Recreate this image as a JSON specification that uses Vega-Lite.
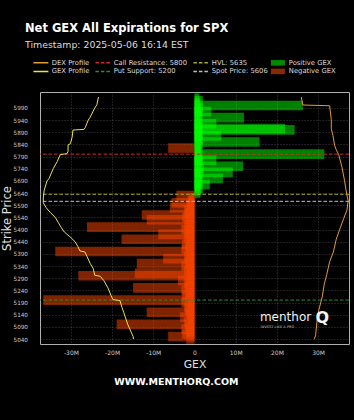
{
  "$schema": "https://vega.github.io/schema/vega-lite/v6.json",
  "width": 309,
  "height": 252,
  "autosize": {"type": "none"},
  "padding": {"left": 40, "top": 92, "right": 5, "bottom": 76},
  "background": "#000000",
  "title": {
    "text": "Net GEX All Expirations for SPX",
    "subtitle": "Timestamp: 2025-05-06 16:14 EST",
    "anchor": "start",
    "frame": "group",
    "dx": -15,
    "offset": 10,
    "font": "DejaVu Sans",
    "fontSize": 11.5,
    "fontWeight": "bold",
    "color": "#ffffff",
    "subtitleFont": "DejaVu Sans",
    "subtitleFontSize": 9.4,
    "subtitleColor": "#dddddd",
    "subtitlePadding": 6
  },
  "datasets": {
    "gex": [
      {"strike": 5040, "gex": -2}, {"strike": 5050, "gex": -6.4}, {"strike": 5060, "gex": -3}, {"strike": 5070, "gex": -2},
      {"strike": 5080, "gex": -3.2}, {"strike": 5090, "gex": -2.3}, {"strike": 5100, "gex": -18.9}, {"strike": 5110, "gex": -2.6},
      {"strike": 5120, "gex": -1.7}, {"strike": 5130, "gex": -3.5}, {"strike": 5140, "gex": -2}, {"strike": 5150, "gex": -11.6},
      {"strike": 5160, "gex": -2.3}, {"strike": 5170, "gex": -2.6}, {"strike": 5180, "gex": -1.7}, {"strike": 5190, "gex": -3.2},
      {"strike": 5200, "gex": -36.7}, {"strike": 5210, "gex": -2.3}, {"strike": 5220, "gex": -3}, {"strike": 5230, "gex": -2},
      {"strike": 5240, "gex": -3.2}, {"strike": 5250, "gex": -14.9}, {"strike": 5260, "gex": -2.3}, {"strike": 5270, "gex": -2.6},
      {"strike": 5280, "gex": -4}, {"strike": 5290, "gex": -2}, {"strike": 5300, "gex": -28.2}, {"strike": 5310, "gex": -14.5},
      {"strike": 5320, "gex": -2.6}, {"strike": 5330, "gex": -2}, {"strike": 5340, "gex": -3.2}, {"strike": 5350, "gex": -14},
      {"strike": 5360, "gex": -2.3}, {"strike": 5370, "gex": -7.6}, {"strike": 5380, "gex": -2.6}, {"strike": 5390, "gex": -2},
      {"strike": 5400, "gex": -33.8}, {"strike": 5410, "gex": -3.2}, {"strike": 5420, "gex": -2.3}, {"strike": 5430, "gex": -3},
      {"strike": 5440, "gex": -2}, {"strike": 5450, "gex": -17.7}, {"strike": 5460, "gex": -2.6}, {"strike": 5470, "gex": -8.8},
      {"strike": 5480, "gex": -2.3}, {"strike": 5490, "gex": -3.2}, {"strike": 5500, "gex": -26.1}, {"strike": 5510, "gex": -2.6},
      {"strike": 5520, "gex": -2}, {"strike": 5530, "gex": -11.6}, {"strike": 5540, "gex": -3}, {"strike": 5550, "gex": -12.8},
      {"strike": 5560, "gex": -2.3}, {"strike": 5570, "gex": -2.6}, {"strike": 5580, "gex": -6}, {"strike": 5590, "gex": -2},
      {"strike": 5600, "gex": -5.6}, {"strike": 5610, "gex": -1.7}, {"strike": 5620, "gex": -1.4}, {"strike": 5630, "gex": -4.4},
      {"strike": 5640, "gex": 1.4}, {"strike": 5650, "gex": 1.7}, {"strike": 5660, "gex": 2}, {"strike": 5670, "gex": 1.4},
      {"strike": 5675, "gex": 3.7}, {"strike": 5680, "gex": 1.7}, {"strike": 5690, "gex": 2}, {"strike": 5700, "gex": 6.9},
      {"strike": 5710, "gex": 1.7}, {"strike": 5720, "gex": 2}, {"strike": 5725, "gex": 9.3}, {"strike": 5730, "gex": 1.4},
      {"strike": 5740, "gex": 2.3}, {"strike": 5750, "gex": 11.8}, {"strike": 5760, "gex": 1.7}, {"strike": 5770, "gex": 2},
      {"strike": 5775, "gex": 5.3}, {"strike": 5780, "gex": 1.7}, {"strike": 5790, "gex": 2}, {"strike": 5800, "gex": 31.5},
      {"strike": 5810, "gex": 1.7}, {"strike": 5820, "gex": 1.4}, {"strike": 5825, "gex": -6.4}, {"strike": 5830, "gex": 2},
      {"strike": 5840, "gex": 1.7}, {"strike": 5850, "gex": 15.8}, {"strike": 5860, "gex": 2}, {"strike": 5870, "gex": 1.7},
      {"strike": 5875, "gex": 6.5}, {"strike": 5880, "gex": 2}, {"strike": 5890, "gex": 1.7}, {"strike": 5900, "gex": 24.3},
      {"strike": 5905, "gex": 22}, {"strike": 5910, "gex": 2}, {"strike": 5920, "gex": 1.7}, {"strike": 5925, "gex": 5.3},
      {"strike": 5930, "gex": 2}, {"strike": 5940, "gex": 1.4}, {"strike": 5950, "gex": 12}, {"strike": 5960, "gex": 1.7},
      {"strike": 5970, "gex": 2}, {"strike": 5975, "gex": 4.1}, {"strike": 5980, "gex": 1.7}, {"strike": 5990, "gex": 2},
      {"strike": 6000, "gex": 26.3}, {"strike": 6010, "gex": 1.4}, {"strike": 6020, "gex": 2}, {"strike": 6030, "gex": 1.2}
    ],
    "profiles": [
      {"series": "GEX Profile", "strike": 6035, "gex": -23.3}, {"series": "GEX Profile", "strike": 6003, "gex": -23.7},
      {"series": "GEX Profile", "strike": 5990, "gex": -24.2}, {"series": "GEX Profile", "strike": 5950, "gex": -25.4},
      {"series": "GEX Profile", "strike": 5940, "gex": -25.8}, {"series": "GEX Profile", "strike": 5910, "gex": -26.5},
      {"series": "GEX Profile", "strike": 5902, "gex": -26.8}, {"series": "GEX Profile", "strike": 5899, "gex": -29.5},
      {"series": "GEX Profile", "strike": 5870, "gex": -29.7}, {"series": "GEX Profile", "strike": 5850, "gex": -30},
      {"series": "GEX Profile", "strike": 5842, "gex": -30.2}, {"series": "GEX Profile", "strike": 5838, "gex": -30.7},
      {"series": "GEX Profile", "strike": 5810, "gex": -30.7}, {"series": "GEX Profile", "strike": 5802, "gex": -31},
      {"series": "GEX Profile", "strike": 5798, "gex": -32.6}, {"series": "GEX Profile", "strike": 5770, "gex": -33.3},
      {"series": "GEX Profile", "strike": 5740, "gex": -34.3}, {"series": "GEX Profile", "strike": 5700, "gex": -35.3},
      {"series": "GEX Profile", "strike": 5690, "gex": -35.8}, {"series": "GEX Profile", "strike": 5650, "gex": -36.5},
      {"series": "GEX Profile", "strike": 5620, "gex": -36.7}, {"series": "GEX Profile", "strike": 5600, "gex": -36.7},
      {"series": "GEX Profile", "strike": 5580, "gex": -36}, {"series": "GEX Profile", "strike": 5560, "gex": -35},
      {"series": "GEX Profile", "strike": 5540, "gex": -33.8}, {"series": "GEX Profile", "strike": 5520, "gex": -33.1},
      {"series": "GEX Profile", "strike": 5500, "gex": -32.4}, {"series": "GEX Profile", "strike": 5480, "gex": -31.6},
      {"series": "GEX Profile", "strike": 5460, "gex": -30.2}, {"series": "GEX Profile", "strike": 5440, "gex": -29},
      {"series": "GEX Profile", "strike": 5420, "gex": -28.3}, {"series": "GEX Profile", "strike": 5402, "gex": -27.8},
      {"series": "GEX Profile", "strike": 5398, "gex": -26.6}, {"series": "GEX Profile", "strike": 5380, "gex": -26.1},
      {"series": "GEX Profile", "strike": 5350, "gex": -25.3}, {"series": "GEX Profile", "strike": 5330, "gex": -24.6},
      {"series": "GEX Profile", "strike": 5302, "gex": -24.2}, {"series": "GEX Profile", "strike": 5298, "gex": -22.9},
      {"series": "GEX Profile", "strike": 5280, "gex": -22}, {"series": "GEX Profile", "strike": 5250, "gex": -21},
      {"series": "GEX Profile", "strike": 5220, "gex": -20.3}, {"series": "GEX Profile", "strike": 5202, "gex": -19.8},
      {"series": "GEX Profile", "strike": 5198, "gex": -18.1}, {"series": "GEX Profile", "strike": 5170, "gex": -17.6},
      {"series": "GEX Profile", "strike": 5150, "gex": -17.2}, {"series": "GEX Profile", "strike": 5100, "gex": -16.2},
      {"series": "GEX Profile", "strike": 5050, "gex": -14.9}, {"series": "GEX Profile", "strike": 5040, "gex": -14.8},
      {"series": "DEX Profile", "strike": 6035, "gex": 25.9}, {"series": "DEX Profile", "strike": 6002, "gex": 26.3},
      {"series": "DEX Profile", "strike": 5999, "gex": 32.8}, {"series": "DEX Profile", "strike": 5943, "gex": 33.2},
      {"series": "DEX Profile", "strike": 5904, "gex": 33.2}, {"series": "DEX Profile", "strike": 5877, "gex": 33.6},
      {"series": "DEX Profile", "strike": 5837, "gex": 34}, {"series": "DEX Profile", "strike": 5818, "gex": 34.4},
      {"series": "DEX Profile", "strike": 5798, "gex": 35}, {"series": "DEX Profile", "strike": 5746, "gex": 35.8},
      {"series": "DEX Profile", "strike": 5693, "gex": 36.4}, {"series": "DEX Profile", "strike": 5640, "gex": 36.9},
      {"series": "DEX Profile", "strike": 5608, "gex": 37.3}, {"series": "DEX Profile", "strike": 5570, "gex": 37},
      {"series": "DEX Profile", "strike": 5535, "gex": 36.2}, {"series": "DEX Profile", "strike": 5489, "gex": 35.2},
      {"series": "DEX Profile", "strike": 5450, "gex": 34.4}, {"series": "DEX Profile", "strike": 5397, "gex": 33.7},
      {"series": "DEX Profile", "strike": 5358, "gex": 32.8}, {"series": "DEX Profile", "strike": 5305, "gex": 32.1},
      {"series": "DEX Profile", "strike": 5266, "gex": 31.5}, {"series": "DEX Profile", "strike": 5213, "gex": 31},
      {"series": "DEX Profile", "strike": 5161, "gex": 30.2}, {"series": "DEX Profile", "strike": 5108, "gex": 29.7},
      {"series": "DEX Profile", "strike": 5056, "gex": 29.4}, {"series": "DEX Profile", "strike": 5040, "gex": 29.1}
    ],
    "levels": [
      {"series": "Call Resistance: 5800", "strike": 5800},
      {"series": "Put Support: 5200", "strike": 5200},
      {"series": "HVL: 5635", "strike": 5635},
      {"series": "Spot Price: 5606", "strike": 5606}
    ]
  },
  "layer": [
    {
      "data": {"name": "gex"},
      "mark": {"type": "bar", "orient": "horizontal", "size": 9.6, "fillOpacity": 0.5, "clip": true},
      "encoding": {
        "y": {
          "field": "strike", "type": "quantitative",
          "scale": {"domain": [5040, 6035], "nice": false, "zero": false},
          "axis": {
            "title": "Strike Price",
            "values": [5040, 5090, 5140, 5190, 5240, 5290, 5340, 5390, 5440, 5490, 5540, 5590, 5640, 5690, 5740, 5790, 5840, 5890, 5940, 5990],
            "tickCount": 40,
            "format": "d", "labelPadding": 12.5, "titlePadding": 1, "titleFontSize": 11.5,
            "labelOverlap": false, "labelFontSize": 5.7
          }
        },
        "x": {
          "field": "gex", "type": "quantitative", "stack": null,
          "scale": {"domain": [-37.5, 37.5], "nice": false},
          "axis": {
            "title": "GEX",
            "values": [-30, -20, -10, 0, 10, 20, 30],
            "tickCount": 20,
            "labelExpr": "datum.value == 0 ? '0' : datum.value + 'M'",
            "labelPadding": 5, "titlePadding": 3, "titleFontSize": 10.8, "labelOverlap": false
          }
        },
        "color": {"condition": {"test": "datum.gex >= 0", "value": "#00ff00"}, "value": "#ff4500"}
      }
    },
    {
      "data": {"name": "levels"},
      "mark": {"type": "rule", "strokeDash": [3.5, 2], "strokeWidth": 1},
      "encoding": {
        "y": {"field": "strike", "type": "quantitative"},
        "color": {
          "field": "series", "type": "nominal",
          "scale": {
            "domain": ["DEX Profile", "Call Resistance: 5800", "HVL: 5635", "Positive GEX", "GEX Profile", "Put Support: 5200", "Spot Price: 5606", "Negative GEX"],
            "range": ["#e39b35", "#d02a2a", "#a8a832", "#00ff00", "#ede24a", "#2e8b2e", "#c0c0c0", "#ff4500"]
          },
          "legend": {
            "title": null, "orient": "none", "legendX": -2.5, "legendY": -33, "columns": 4, "direction": "horizontal",
            "padding": 0, "columnPadding": 2, "rowPadding": 1, "labelFontSize": 6.8, "labelColor": "#dddddd",
            "labelFont": "DejaVu Sans", "labelOffset": 7.5, "symbolSize": 100, "symbolStrokeWidth": 0,
            "encode": {
              "symbols": {
                "update": {
                  "shape": {"signal": "indexof(['Positive GEX','Negative GEX'], datum.value) >= 0 ? 'M-1.4,-0.55H1.4V0.55H-1.4Z' : 'M-1.5,0H1.5'"},
                  "fill": {"signal": "datum.value == 'Positive GEX' ? '#008a00' : datum.value == 'Negative GEX' ? '#8a2800' : 'transparent'"},
                  "stroke": {"signal": "indexof(['Positive GEX','Negative GEX'], datum.value) >= 0 ? 'transparent' : scale('color', datum.value)"},
                  "strokeDash": {"signal": "indexof(['Call Resistance: 5800','HVL: 5635','Put Support: 5200','Spot Price: 5606'], datum.value) >= 0 ? [3.5,2] : [1,0]"},
                  "strokeWidth": {"signal": "indexof(['Positive GEX','Negative GEX'], datum.value) >= 0 ? 0 : 1.5"},
                  "opacity": {"value": 1}
                }
              }
            }
          }
        }
      }
    },
    {
      "data": {"name": "profiles"},
      "mark": {"type": "line", "strokeWidth": 1, "clip": true},
      "encoding": {
        "x": {"field": "gex", "type": "quantitative"},
        "y": {"field": "strike", "type": "quantitative"},
        "order": {"field": "strike", "type": "quantitative"},
        "color": {
          "field": "series", "type": "nominal",
          "scale": {
            "domain": ["DEX Profile", "Call Resistance: 5800", "HVL: 5635", "Positive GEX", "GEX Profile", "Put Support: 5200", "Spot Price: 5606", "Negative GEX"],
            "range": ["#e39b35", "#d02a2a", "#a8a832", "#00ff00", "#ede24a", "#2e8b2e", "#c0c0c0", "#ff4500"]
          }
        }
      }
    },
    {
      "data": {"values": [{}]},
      "mark": {"type": "text", "font": "DejaVu Sans", "fontSize": 12, "color": "#f2f2f2", "align": "center", "baseline": "alphabetic"},
      "encoding": {"x": {"datum": 22.1}, "y": {"datum": 5112}, "text": {"value": "menthor"}}
    },
    {
      "data": {"values": [{}]},
      "mark": {"type": "text", "font": "DejaVu Sans", "fontSize": 16, "fontWeight": "bold", "color": "#f2f2f2", "align": "center", "baseline": "alphabetic"},
      "encoding": {"x": {"datum": 31}, "y": {"datum": 5106}, "text": {"value": "Q"}}
    },
    {
      "data": {"values": [{}]},
      "mark": {"type": "text", "font": "DejaVu Sans", "fontSize": 3.6, "color": "#bbbbbb", "align": "left", "baseline": "alphabetic"},
      "encoding": {"x": {"datum": 16}, "y": {"datum": 5087}, "text": {"value": "INVEST LIKE A PRO"}}
    },
    {
      "data": {"values": [{}]},
      "mark": {"type": "text", "font": "DejaVu Sans", "fontSize": 9.5, "fontWeight": "bold", "color": "#ffffff", "align": "center", "baseline": "alphabetic"},
      "encoding": {"x": {"datum": -4.4}, "y": {"datum": 4851}, "text": {"value": "WWW.MENTHORQ.COM"}}
    }
  ],
  "config": {
    "font": "DejaVu Sans",
    "view": {"stroke": "#b0b0b0", "strokeWidth": 1},
    "axis": {
      "labelFont": "DejaVu Sans", "titleFont": "DejaVu Sans", "labelFontSize": 6, "labelColor": "#cccccc",
      "titleColor": "#e0e0e0", "titleFontWeight": "normal", "ticks": false, "domain": false,
      "grid": true, "gridColor": "#6a6a6a", "gridDash": [1, 2], "gridWidth": 0.6, "labelOverlap": false
    }
  }
}
